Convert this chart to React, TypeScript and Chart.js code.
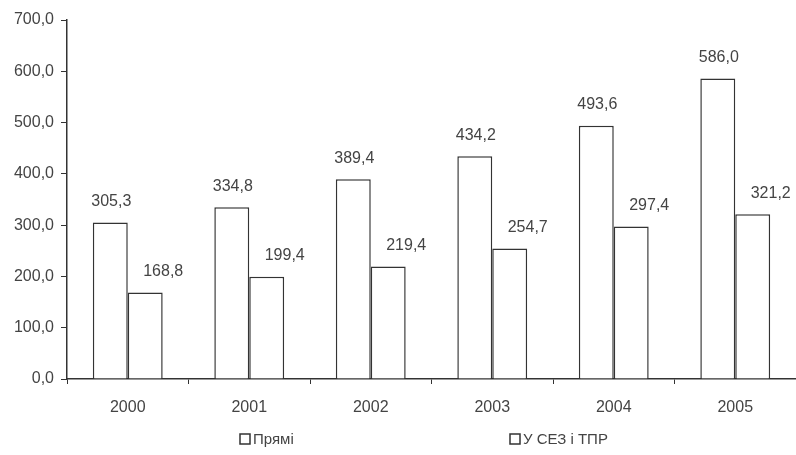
import React, { useEffect, useRef } from "react";
import { Chart, registerables } from "chart.js";

Chart.register(...registerables);

const years = ["2000", "2001", "2002", "2003", "2004", "2005"];
const direct = [305.3, 334.8, 389.4, 434.2, 493.6, 586.0];
const sez = [168.8, 199.4, 219.4, 254.7, 297.4, 321.2];
const seriesNames = ["Прямі", "У СЕЗ і ТПР"];

const FONT = "'Liberation Sans', Arial, sans-serif";
const TEXT = "#444";
const LINE = "#333";

const fmt = (v: number) => v.toFixed(1).replace(".", ",");

const labelPlugin = {
  id: "valueLabels",
  afterDatasetsDraw(chart: any) {
    const ctx = chart.ctx;
    ctx.save();
    ctx.font = `16px ${FONT}`;
    ctx.fillStyle = TEXT;
    ctx.textAlign = "center";
    ctx.textBaseline = "middle";
    chart.data.datasets.forEach((ds: any, i: number) => {
      const meta = chart.getDatasetMeta(i);
      meta.data.forEach((bar: any, j: number) => {
        const x = bar.x + (i === 1 ? 18 : 1);
        ctx.fillText(fmt(ds.data[j]), x, bar.y - 21);
      });
    });
    ctx.restore();
  },
};

const legendPlugin = {
  id: "customLegend",
  afterDraw(chart: any) {
    const ctx = chart.ctx;
    const xs = [240, 510];
    const y = 439;
    ctx.save();
    ctx.font = `15px ${FONT}`;
    ctx.textBaseline = "middle";
    ctx.textAlign = "left";
    chart.data.datasets.forEach((ds: any, i: number) => {
      ctx.fillStyle = "#fff";
      ctx.strokeStyle = LINE;
      ctx.lineWidth = 1.5;
      ctx.fillRect(xs[i], y - 5, 10, 10);
      ctx.strokeRect(xs[i], y - 5, 10, 10);
      ctx.fillStyle = TEXT;
      ctx.fillText(ds.label, xs[i] + 13, y + 1);
    });
    ctx.restore();
  },
};

export default function App() {
  const ref = useRef<HTMLCanvasElement>(null);
  useEffect(() => {
    document.body.style.margin = "0";
    const chart = new Chart(ref.current!, {
      type: "bar",
      data: {
        labels: years,
        datasets: [
          {
            label: seriesNames[0],
            data: direct,
            backgroundColor: "#ffffff",
            borderColor: LINE,
            borderWidth: 1.5,
            barPercentage: 1,
            categoryPercentage: 0.575,
          },
          {
            label: seriesNames[1],
            data: sez,
            backgroundColor: "#ffffff",
            borderColor: LINE,
            borderWidth: 1.5,
            barPercentage: 1,
            categoryPercentage: 0.575,
          },
        ],
      },
      options: {
        animation: false,
        responsive: false,
        layout: { padding: { top: 20, right: 0, left: 0, bottom: 36 } },
        plugins: {
          tooltip: { enabled: false },
          legend: { display: false },
        },
        scales: {
          x: {
            afterFit: (s: any) => {
              s.height = 40;
            },
            grid: {
              display: true,
              drawOnChartArea: false,
              drawTicks: true,
              tickLength: 5,
              color: LINE,
              offset: true,
            },
            border: { display: true, color: LINE, width: 1.5 },
            ticks: { color: TEXT, font: { family: FONT, size: 16 }, padding: 14 },
          },
          y: {
            min: 0,
            max: 700,
            afterFit: (s: any) => {
              s.width = 67;
            },
            grid: {
              display: true,
              drawOnChartArea: false,
              drawTicks: true,
              tickLength: 6,
              color: LINE,
            },
            border: { display: true, color: LINE, width: 1.5 },
            ticks: {
              stepSize: 100,
              color: TEXT,
              font: { family: FONT, size: 16 },
              padding: 7,
              callback: (v: any) => fmt(Number(v)),
            },
          },
        },
      },
      plugins: [labelPlugin, legendPlugin],
    });
    return () => chart.destroy();
  }, []);
  return (
    <div style={{ position: "fixed", left: 0, top: 0, width: 796, height: 455, background: "#fff" }}>
      <canvas ref={ref} width={796} height={455} />
    </div>
  );
}
